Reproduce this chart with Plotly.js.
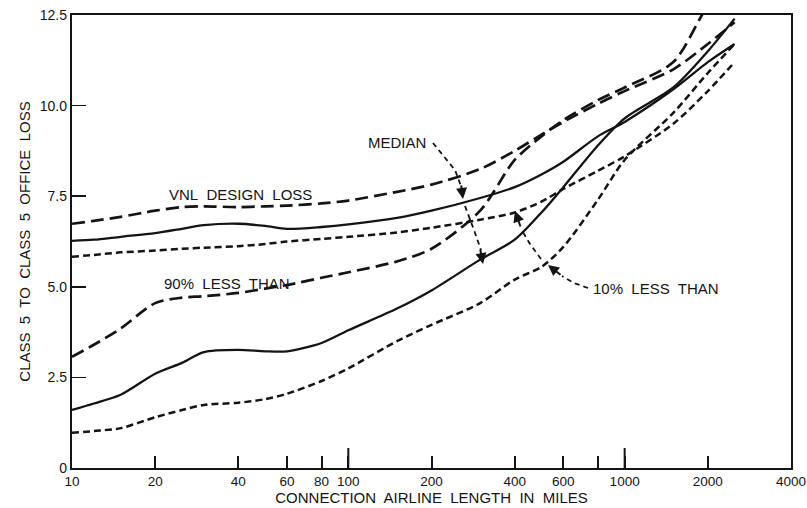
<!DOCTYPE html>
<html><head><meta charset="utf-8">
<script src="https://cdn.plot.ly/plotly-3.0.1.min.js"></script>
<style>body{margin:0;background:#fff}</style>
</head><body><div id="chart" style="width:807px;height:508px"></div>
<script>
// Connection airline length in miles
const miles = [10, 12, 15, 20, 25, 30, 40, 50, 60, 80, 100, 150, 200, 300, 400, 500, 600, 800, 1000, 1500, 2000, 2500];
// Upper group (VNL design loss, median, 10% less than)
const vnlDesignLoss = [6.74, 6.82, 6.93, 7.10, 7.20, 7.22, 7.20, 7.22, 7.24, 7.30, 7.38, 7.62, 7.82, 8.25, 8.75, 9.20, 9.55, 10.05, 10.40, 11.00, 11.70, 12.30];
const upperMedian   = [6.27, 6.30, 6.38, 6.48, 6.60, 6.70, 6.74, 6.68, 6.60, 6.65, 6.72, 6.90, 7.10, 7.45, 7.75, 8.10, 8.45, 9.15, 9.55, 10.45, 11.20, 11.70];
const upper10Pct    = [5.83, 5.88, 5.95, 6.00, 6.05, 6.08, 6.12, 6.18, 6.25, 6.32, 6.38, 6.50, 6.63, 6.85, 7.05, 7.35, 7.70, 8.20, 8.60, 9.50, 10.40, 11.20];
// Lower group (90% less than, median, 10% less than)
const lower90Pct    = [3.07, 3.40, 3.85, 4.55, 4.70, 4.74, 4.83, 4.95, 5.05, 5.25, 5.40, 5.70, 6.05, 7.10, 8.50, 9.15, 9.60, 10.15, 10.50, 11.20, 12.75, 13.50];
const lowerMedian   = [1.60, 1.78, 2.02, 2.60, 2.90, 3.20, 3.26, 3.22, 3.22, 3.45, 3.80, 4.40, 4.90, 5.75, 6.30, 7.05, 7.75, 8.90, 9.65, 10.50, 11.50, 12.40];
const lower10Pct    = [0.97, 1.02, 1.10, 1.40, 1.60, 1.74, 1.80, 1.90, 2.05, 2.40, 2.75, 3.50, 3.95, 4.55, 5.20, 5.55, 6.10, 7.40, 8.50, 9.80, 10.90, 11.70];

const xTickVals = [10, 20, 40, 60, 80, 100, 200, 400, 600, 800, 1000, 2000, 4000];
const xTickText = ['10', '20', '40', '60', '80', '100', '200', '400', '600', '', '1000', '2000', '4000'];
const xLongTicks = [100, 1000];
const yTickVals = [0, 2.5, 5, 7.5, 10, 12.5];
const yTickText = ['0', '2.5', '5.0', '7.5', '10.0', '12.5'];

const INK = '#141414';
const LONG = '13px,6px';
const SHORT = '7px,4px';
function tr(y, dash, w) {
  return {x: miles, y: y, type: 'scatter', mode: 'lines',
    line: {color: INK, width: w || 2.4, dash: dash, shape: 'spline', smoothing: 0.8},
    hoverinfo: 'skip', showlegend: false};
}
const data = [
  tr(vnlDesignLoss, LONG, 2.7), tr(upperMedian, 'solid', 2.3), tr(upper10Pct, SHORT, 2.5),
  tr(lower90Pct, LONG, 2.7), tr(lowerMedian, 'solid', 2.3), tr(lower10Pct, SHORT, 2.5)
];

// paper-coordinate helpers for the annotation leaders (pixel -> paper)
const L = 72, R = 791, T = 15, B = 468;
const px = v => (v - L) / (R - L);
const py = v => (B - v) / (B - T);
function dashPath(pts) {
  return {type: 'path', xref: 'paper', yref: 'paper',
    path: pts.map((p, i) => (i ? 'L' : 'M') + px(p[0]).toFixed(4) + ',' + py(p[1]).toFixed(4)).join(' '),
    line: {color: INK, width: 1.8, dash: '5px,4px'}};
}
function arrow(hx, hy, tx, ty) {
  return {xref: 'paper', yref: 'paper', x: px(hx), y: py(hy), ax: tx - hx, ay: ty - hy,
    showarrow: true, arrowhead: 2, arrowsize: 1.1, arrowwidth: 2, arrowcolor: INK, text: ''};
}
const FAM = 'Liberation Sans, Arial, sans-serif';
const FONT = {family: FAM, size: 15, color: INK};
const S = '\u00a0';
function label(text, x, y, anchor) {
  return {xref: 'paper', yref: 'paper', x: px(x), y: py(y), text: text, showarrow: false,
    xanchor: anchor || 'center', yanchor: 'middle', font: FONT};
}
function sp(t) { return t.split(' ').join(S + ' '); }

const tickShapes = xLongTicks.map(v => ({type: 'line', xref: 'x', yref: 'paper',
  x0: v, x1: v, y0: 0, y1: 20 / (B - T), line: {color: INK, width: 2}}));

const layout = {
  width: 807, height: 508,
  margin: {l: L, r: 807 - R, t: T, b: 508 - B},
  paper_bgcolor: '#fff', plot_bgcolor: '#fff',
  font: FONT,
  xaxis: {type: 'log', range: [1, Math.log10(4000)], tickvals: xTickVals, ticktext: xTickText,
    ticks: 'inside', ticklen: 12, tickwidth: 2, tickcolor: INK, tickangle: 0,
    showline: true, linewidth: 2.2, linecolor: INK, mirror: true, showgrid: false, zeroline: false,
    tickfont: {family: FAM, size: 13.5, color: INK},
    title: {text: sp('CONNECTION AIRLINE LENGTH IN MILES'), standoff: 4,
      font: {family: FAM, size: 15, color: INK}}},
  yaxis: {range: [0, 12.5], tickvals: yTickVals, ticktext: yTickText,
    ticks: 'inside', ticklen: 14, tickwidth: 1.5, tickcolor: INK,
    showline: true, linewidth: 2.2, linecolor: INK, mirror: true, showgrid: false, zeroline: false,
    tickfont: {family: FAM, size: 14, color: INK},
    title: {text: sp('CLASS 5 TO CLASS 5 OFFICE LOSS'), standoff: 6,
      font: {family: FAM, size: 15, color: INK}}},
  shapes: [
    dashPath([[433, 143], [455, 170], [461, 186]]),
    dashPath([[465, 206], [474, 230], [481, 250]]),
    dashPath([[588, 288], [574, 283], [562, 276]]),
    dashPath([[541, 259], [530, 244], [521, 229]])
  ].concat(tickShapes),
  annotations: [
    label(sp('VNL DESIGN LOSS'), 240, 194),
    label(sp('90% LESS THAN'), 227, 284),
    label('MEDIAN', 397, 142),
    label(sp('10% LESS THAN'), 591, 288, 'left'),
    arrow(463, 199, 461, 184),
    arrow(483, 264, 480, 248),
    arrow(548, 265, 562, 276),
    arrow(515, 211, 521, 228)
  ]
};
Plotly.newPlot('chart', data, layout, {staticPlot: true, displayModeBar: false});
</script></body></html>
